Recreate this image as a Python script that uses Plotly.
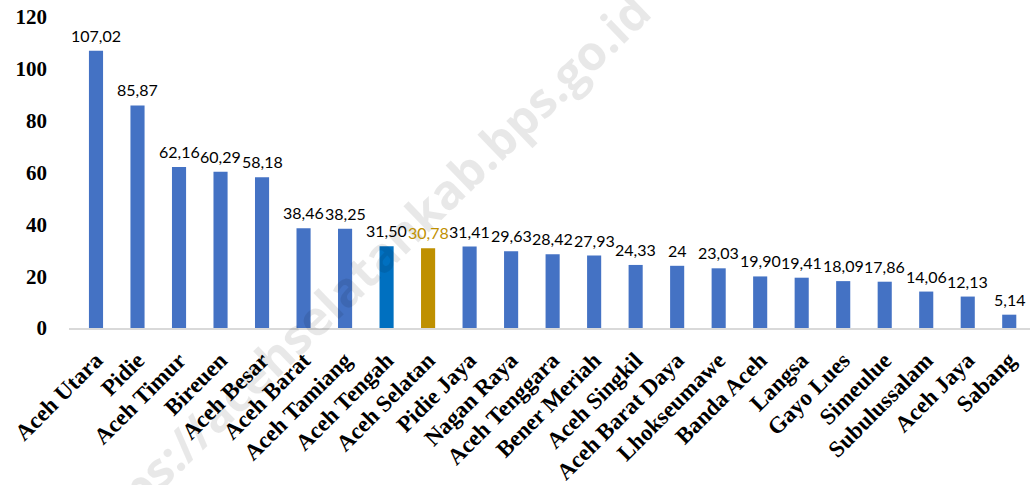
import plotly.graph_objects as go

regions = ["Aceh Utara", "Pidie", "Aceh Timur", "Bireuen", "Aceh Besar", "Aceh Barat",
           "Aceh Tamiang", "Aceh Tengah", "Aceh Selatan", "Pidie Jaya", "Nagan Raya",
           "Aceh Tenggara", "Bener Meriah", "Aceh Singkil", "Aceh Barat Daya",
           "Lhokseumawe", "Banda Aceh", "Langsa", "Gayo Lues", "Simeulue",
           "Subulussalam", "Aceh Jaya", "Sabang"]
values = [107.02, 85.87, 62.16, 60.29, 58.18, 38.46, 38.25, 31.50, 30.78, 31.41, 29.63,
          28.42, 27.93, 24.33, 24, 23.03, 19.90, 19.41, 18.09, 17.86, 14.06, 12.13, 5.14]
value_labels = ["107,02", "85,87", "62,16", "60,29", "58,18", "38,46", "38,25", "31,50",
                "30,78", "31,41", "29,63", "28,42", "27,93", "24,33", "24", "23,03",
                "19,90", "19,41", "18,09", "17,86", "14,06", "12,13", "5,14"]
y_ticks = [0, 20, 40, 60, 80, 100, 120]

BLUE = "#4472C4"
highlight = {"Aceh Tengah": "#0070C0", "Aceh Selatan": "#BF9000"}
bar_colors = [highlight.get(r, BLUE) for r in regions]
label_colors = ["#BF9000" if r == "Aceh Selatan" else "#000000" for r in regions]
SERIF = "Times New Roman, Liberation Serif, serif"

fig = go.Figure()

# faint site watermark across the plot
fig.add_annotation(xref="paper", yref="paper", x=0.30, y=0.17, xanchor="center", yanchor="middle",
                   text="<b>https://acehselatankab.bps.go.id</b>", showarrow=False,
                   textangle=-44, font=dict(family="Open Sans", size=48, color="rgba(0,0,0,0.09)"))

fig.add_trace(go.Bar(x=regions, y=values, marker=dict(color=bar_colors, line=dict(width=0)),
                     hoverinfo="x+y"))

for r, v, t, c in zip(regions, values, value_labels, label_colors):
    fig.add_annotation(x=r, y=v, text=t, showarrow=False, yanchor="bottom", yshift=4,
                       font=dict(family="Lato", size=16, color=c))

fig.update_layout(
    width=1036, height=485,
    margin=dict(l=69, r=6, t=17, b=157),
    paper_bgcolor="white", plot_bgcolor="white",
    bargap=0.66, showlegend=False,
    xaxis=dict(tickangle=-45, showline=True, linecolor="#d9d9d9", linewidth=1.5,
               ticks="", showgrid=False, ticklabelstandoff=8, automargin=False,
               tickfont=dict(family=SERIF, size=23, color="black", weight="bold")),
    yaxis=dict(range=[0, 120], tickvals=y_ticks, showgrid=False, zeroline=False,
               showline=False, ticks="", ticklabelstandoff=21, automargin=False,
               tickfont=dict(family=SERIF, size=21, color="black", weight="bold")),
)

fig.write_html("out.html")
